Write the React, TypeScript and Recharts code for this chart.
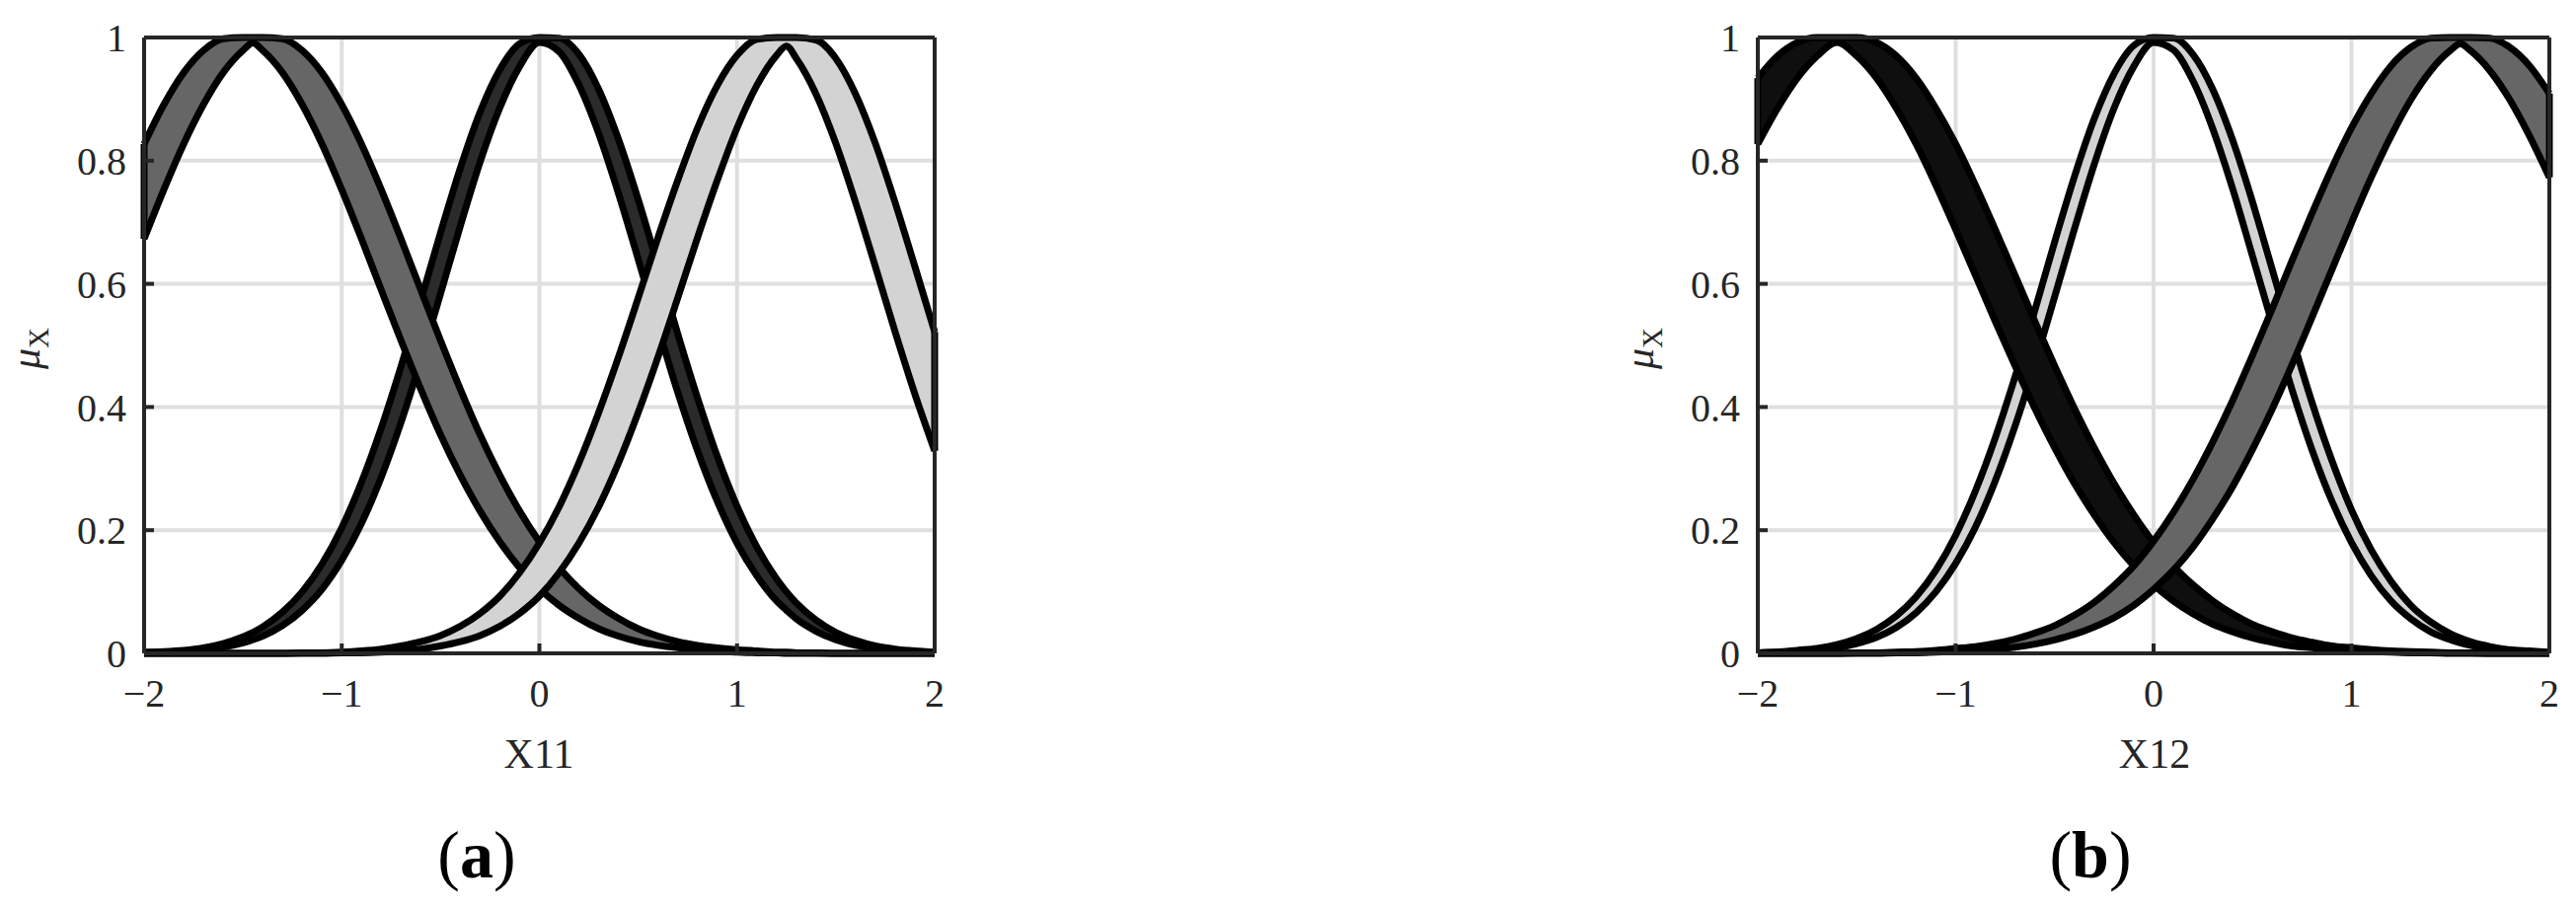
import React from "react";
import { Area, CartesianGrid, ComposedChart, ReferenceLine, XAxis, YAxis } from "recharts";

// panel (a): sample positions on X11 and the upper / lower membership grades
const xA = [-2, -1.9, -1.8, -1.7, -1.6, -1.5, -1.45, -1.4, -1.3, -1.2, -1.1, -1, -0.9, -0.8, -0.7, -0.6, -0.5, -0.4, -0.3, -0.2, -0.1, 0, 0.1, 0.2, 0.3, 0.4, 0.5, 0.6, 0.7, 0.8, 0.9, 1, 1.1, 1.2, 1.25, 1.3, 1.4, 1.5, 1.6, 1.7, 1.8, 1.9, 2];
const a1Hi = [0.827, 0.891, 0.943, 0.979, 0.998, 1, 1, 1, 0.998, 0.979, 0.943, 0.891, 0.827, 0.753, 0.673, 0.59, 0.508, 0.429, 0.355, 0.289, 0.231, 0.181, 0.139, 0.105, 0.078, 0.057, 0.04, 0.028, 0.019, 0.013, 0.009, 0.006, 0.004, 0.002, 0.002, 0.001, 0.001, 0, 0, 0, 0, 0, 0];
const a1Lo = [0.673, 0.753, 0.827, 0.891, 0.943, 0.979, 0.991, 0.979, 0.943, 0.891, 0.827, 0.753, 0.673, 0.59, 0.508, 0.429, 0.355, 0.289, 0.231, 0.181, 0.139, 0.105, 0.078, 0.057, 0.04, 0.028, 0.019, 0.013, 0.009, 0.006, 0.004, 0.002, 0.001, 0.001, 0, 0, 0, 0, 0, 0, 0, 0, 0];
const a2Hi = [0.002, 0.003, 0.005, 0.009, 0.016, 0.027, 0.034, 0.043, 0.067, 0.1, 0.145, 0.204, 0.278, 0.366, 0.466, 0.573, 0.683, 0.788, 0.879, 0.948, 0.99, 1, 0.999, 0.973, 0.916, 0.835, 0.737, 0.629, 0.519, 0.415, 0.32, 0.239, 0.173, 0.121, 0.1, 0.082, 0.054, 0.034, 0.021, 0.012, 0.007, 0.004, 0.002];
const a2Lo = [0.001, 0.002, 0.003, 0.006, 0.01, 0.017, 0.022, 0.028, 0.045, 0.07, 0.104, 0.151, 0.211, 0.286, 0.375, 0.476, 0.584, 0.694, 0.798, 0.886, 0.953, 0.992, 0.977, 0.923, 0.844, 0.747, 0.64, 0.53, 0.424, 0.329, 0.247, 0.179, 0.126, 0.085, 0.07, 0.056, 0.036, 0.022, 0.013, 0.008, 0.004, 0.002, 0.001];
const a3Hi = [0, 0, 0, 0, 0, 0, 0, 0, 0, 0.001, 0.001, 0.002, 0.004, 0.007, 0.012, 0.019, 0.029, 0.044, 0.065, 0.093, 0.131, 0.179, 0.238, 0.309, 0.391, 0.481, 0.577, 0.675, 0.768, 0.853, 0.922, 0.971, 0.997, 1, 1, 1, 0.996, 0.966, 0.908, 0.828, 0.732, 0.628, 0.522];
const a3Lo = [0, 0, 0, 0, 0, 0, 0, 0, 0, 0, 0, 0.001, 0.001, 0.002, 0.004, 0.007, 0.012, 0.019, 0.029, 0.044, 0.065, 0.093, 0.131, 0.179, 0.238, 0.309, 0.391, 0.481, 0.577, 0.675, 0.768, 0.853, 0.922, 0.971, 0.986, 0.966, 0.908, 0.828, 0.732, 0.628, 0.522, 0.421, 0.329];

// panel (b): X12
const xB = [-2, -1.9, -1.8, -1.7, -1.6, -1.5, -1.4, -1.3, -1.2, -1.1, -1, -0.9, -0.8, -0.7, -0.6, -0.5, -0.4, -0.3, -0.2, -0.1, 0, 0.1, 0.2, 0.3, 0.4, 0.5, 0.6, 0.7, 0.8, 0.9, 1, 1.1, 1.2, 1.3, 1.4, 1.5, 1.55, 1.6, 1.7, 1.8, 1.9, 2];
const b1Hi = [0.934, 0.97, 0.992, 1, 1, 1, 0.992, 0.97, 0.934, 0.885, 0.827, 0.76, 0.688, 0.614, 0.539, 0.467, 0.398, 0.334, 0.276, 0.225, 0.18, 0.142, 0.111, 0.085, 0.064, 0.047, 0.035, 0.025, 0.018, 0.012, 0.009, 0.006, 0.004, 0.003, 0.002, 0.001, 0.001, 0.001, 0, 0, 0, 0];
const b1Lo = [0.827, 0.885, 0.934, 0.97, 0.992, 0.97, 0.934, 0.885, 0.827, 0.76, 0.688, 0.614, 0.539, 0.467, 0.398, 0.334, 0.276, 0.225, 0.18, 0.142, 0.111, 0.085, 0.064, 0.047, 0.035, 0.025, 0.018, 0.012, 0.009, 0.006, 0.004, 0.003, 0.002, 0.001, 0.001, 0, 0, 0, 0, 0, 0, 0];
const b2Hi = [0.001, 0.002, 0.005, 0.008, 0.014, 0.024, 0.039, 0.061, 0.092, 0.135, 0.192, 0.264, 0.35, 0.449, 0.557, 0.668, 0.774, 0.868, 0.941, 0.987, 1, 0.999, 0.972, 0.915, 0.833, 0.733, 0.623, 0.513, 0.408, 0.314, 0.233, 0.168, 0.117, 0.078, 0.051, 0.032, 0.025, 0.019, 0.011, 0.006, 0.004, 0.002];
const b2Lo = [0.001, 0.002, 0.003, 0.005, 0.009, 0.016, 0.026, 0.042, 0.066, 0.1, 0.146, 0.205, 0.28, 0.369, 0.47, 0.579, 0.689, 0.794, 0.885, 0.953, 0.992, 0.98, 0.929, 0.851, 0.754, 0.645, 0.535, 0.428, 0.331, 0.248, 0.18, 0.126, 0.085, 0.056, 0.035, 0.022, 0.017, 0.013, 0.007, 0.004, 0.002, 0.001];
const b3Hi = [0, 0, 0, 0, 0, 0.001, 0.001, 0.002, 0.003, 0.005, 0.008, 0.011, 0.016, 0.023, 0.033, 0.045, 0.062, 0.083, 0.11, 0.142, 0.182, 0.229, 0.283, 0.344, 0.411, 0.484, 0.56, 0.638, 0.714, 0.787, 0.853, 0.909, 0.954, 0.984, 0.999, 1, 1, 1, 0.999, 0.984, 0.954, 0.909];
const b3Lo = [0, 0, 0, 0, 0, 0, 0, 0.001, 0.001, 0.002, 0.003, 0.005, 0.007, 0.01, 0.015, 0.022, 0.031, 0.043, 0.058, 0.078, 0.104, 0.135, 0.173, 0.219, 0.271, 0.331, 0.397, 0.469, 0.545, 0.622, 0.699, 0.773, 0.84, 0.899, 0.946, 0.979, 0.99, 0.979, 0.946, 0.899, 0.84, 0.773];

const xTicks = [-2, -1, 0, 1, 2];
const yTicks = [0, 0.2, 0.4, 0.6, 0.8, 1];

const FONT = '"Liberation Serif", "Times New Roman", serif';
const INK = "#262626";
const EDGE = 7;

const fmtX = (v: number) => (v < 0 ? `\u2212${Math.abs(v)}` : `${v}`);

type Band = { key: string; lo: number[]; hi: number[]; fill: string };

const bandsA: Band[] = [
  // drawing order follows the picture: middle set first
  { key: "a2", lo: a2Lo, hi: a2Hi, fill: "#2b2b2b" },
  { key: "a1", lo: a1Lo, hi: a1Hi, fill: "#666666" },
  { key: "a3", lo: a3Lo, hi: a3Hi, fill: "#d3d3d3" },
];
const bandsB: Band[] = [
  { key: "b2", lo: b2Lo, hi: b2Hi, fill: "#d3d3d3" },
  { key: "b1", lo: b1Lo, hi: b1Hi, fill: "#0f0f0f" },
  { key: "b3", lo: b3Lo, hi: b3Hi, fill: "#666666" },
];

const axisLine = { stroke: INK, strokeWidth: 4 };
const tickLine = { stroke: INK, strokeWidth: 4 };
const tickStyle = { fill: INK, fontSize: 40, fontFamily: FONT };

type PanelProps = { xs: number[]; bands: Band[]; width: number; rightPad: number };

function Panel({ xs, bands, width, rightPad }: PanelProps) {
  const rows = xs.map((x, i) => {
    const row: Record<string, number | number[]> = { x };
    bands.forEach((b) => {
      row[b.key] = [b.lo[i], b.hi[i]];
    });
    return row;
  });
  const last = xs.length - 1;

  return (
    <ComposedChart width={width} height={800} data={rows} margin={{ top: 0, right: 0, left: 0, bottom: 0 }}>
      <CartesianGrid xAxisId="b" yAxisId="l" stroke="#dfdfdf" strokeWidth={4} />
      <XAxis
        xAxisId="b"
        dataKey="x"
        type="number"
        domain={[-2, 2]}
        ticks={xTicks}
        interval={0}
        height={138}
        tickSize={-10}
        tickMargin={36}
        tickFormatter={fmtX}
        tick={tickStyle}
        axisLine={axisLine}
        tickLine={tickLine}
      />
      <XAxis
        xAxisId="t"
        orientation="top"
        dataKey="x"
        type="number"
        domain={[-2, 2]}
        ticks={xTicks}
        interval={0}
        height={38}
        tickSize={-10}
        tick={false}
        axisLine={axisLine}
        tickLine={tickLine}
      />
      <YAxis
        yAxisId="l"
        type="number"
        domain={[0, 1]}
        ticks={yTicks}
        interval={0}
        width={146}
        tickSize={-10}
        tickMargin={28}
        tick={tickStyle}
        axisLine={axisLine}
        tickLine={tickLine}
      />
      <YAxis
        yAxisId="r"
        orientation="right"
        type="number"
        domain={[0, 1]}
        ticks={yTicks}
        interval={0}
        width={rightPad}
        tickSize={-10}
        tick={false}
        axisLine={axisLine}
        tickLine={tickLine}
      />
      {bands.map((b) => (
        <Area
          key={b.key}
          xAxisId="b"
          yAxisId="l"
          dataKey={b.key}
          type="monotone"
          fill={b.fill}
          fillOpacity={1}
          stroke="#000"
          strokeWidth={EDGE}
          dot={false}
          activeDot={false}
          isAnimationActive={false}
        />
      ))}
      {bands
        .filter((b) => b.hi[0] - b.lo[0] > 0.02)
        .map((b) => (
          <ReferenceLine
            key={`${b.key}-l`}
            xAxisId="b"
            yAxisId="l"
            segment={[{ x: xs[0], y: b.lo[0] }, { x: xs[0], y: b.hi[0] }]}
            stroke="#000"
            strokeWidth={EDGE}
          />
        ))}
      {bands
        .filter((b) => b.hi[last] - b.lo[last] > 0.02)
        .map((b) => (
          <ReferenceLine
            key={`${b.key}-r`}
            xAxisId="b"
            yAxisId="l"
            segment={[{ x: xs[last], y: b.lo[last] }, { x: xs[last], y: b.hi[last] }]}
            stroke="#000"
            strokeWidth={EDGE}
          />
        ))}
    </ComposedChart>
  );
}

function YLabel({ x, y }: { x: number; y: number }) {
  return (
    <text transform={`translate(${x},${y}) rotate(-90)`} textAnchor="middle" fontFamily={FONT} fontSize={42} fill={INK}>
      <tspan fontStyle="italic">μ</tspan>
      <tspan fontSize={29} dy={9}>X</tspan>
    </text>
  );
}

export default function App() {
  return (
    <div style={{ position: "relative", width: 2610, height: 919, background: "#fff", overflow: "hidden" }}>
      <style>{"body{margin:0}"}</style>
      <div style={{ position: "absolute", left: 0, top: 0 }}>
        <Panel xs={xA} bands={bandsA} width={1000} rightPad={53} />
      </div>
      <div style={{ position: "absolute", left: 1635, top: 0 }}>
        <Panel xs={xB} bands={bandsB} width={975} rightPad={27} />
      </div>
      <svg width={2610} height={919} style={{ position: "absolute", left: 0, top: 0, pointerEvents: "none" }}>
        <YLabel x={40} y={353} />
        <YLabel x={1675} y={353} />
        <text x={546} y={778} textAnchor="middle" fontFamily={FONT} fontSize={42} fill={INK}>X11</text>
        <text x={2183} y={778} textAnchor="middle" fontFamily={FONT} fontSize={42} fill={INK}>X12</text>
        <text x={483} y={889} textAnchor="middle" fontFamily={FONT} fontSize={68} fill="#000">
          (<tspan fontWeight="bold">a</tspan>)
        </text>
        <text x={2118} y={889} textAnchor="middle" fontFamily={FONT} fontSize={68} fill="#000">
          (<tspan fontWeight="bold">b</tspan>)
        </text>
      </svg>
    </div>
  );
}
